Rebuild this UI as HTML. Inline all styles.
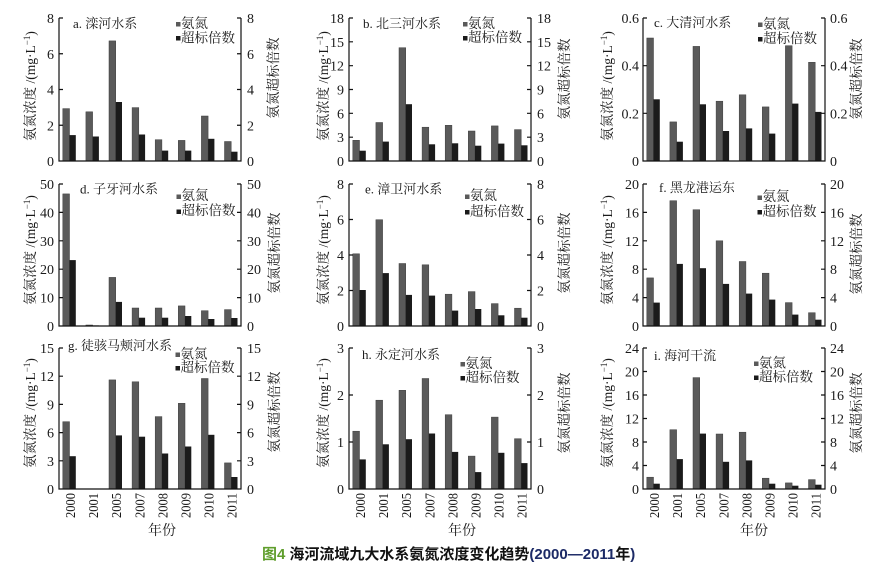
<!DOCTYPE html>
<html><head><meta charset="utf-8"><style>
html,body{margin:0;padding:0;background:#fff;}
svg{display:block;}
.s{font-family:"Liberation Serif","Noto Serif CJK SC",serif;fill:#1a1a1a;}
.t{font-size:14px;}
.ax{fill:none;stroke:#111;stroke-width:1.2;}
.g{fill:#5a5a5a;stroke:#3c3c3c;stroke-width:0.5;}
.k{fill:#1b1b1b;}
.ttl{font-size:13px;}
.lg{font-size:13.5px;}
.yl{font-size:13.5px;}
.yr{font-size:14px;}
</style></head><body>
<svg width="886" height="564" viewBox="0 0 886 564" xmlns="http://www.w3.org/2000/svg">
<rect width="886" height="564" fill="#fff"/>

<!-- Panel a -->
<g transform="translate(59,18)" class="s">
<rect class="g" x="3.8" y="90.6" width="6.7" height="52.4"/><rect class="k" x="10.5" y="117.1" width="6.3" height="25.9"/>
<rect class="g" x="26.9" y="93.8" width="6.7" height="49.2"/><rect class="k" x="33.6" y="118.5" width="6.3" height="24.5"/>
<rect class="g" x="50.0" y="22.9" width="6.7" height="120.1"/><rect class="k" x="56.7" y="84.0" width="6.3" height="59.0"/>
<rect class="g" x="73.1" y="89.6" width="6.7" height="53.4"/><rect class="k" x="79.8" y="116.5" width="6.3" height="26.5"/>
<rect class="g" x="96.2" y="121.7" width="6.7" height="21.3"/><rect class="k" x="102.9" y="132.6" width="6.3" height="10.4"/>
<rect class="g" x="119.3" y="122.4" width="6.7" height="20.6"/><rect class="k" x="126.0" y="132.6" width="6.3" height="10.4"/>
<rect class="g" x="142.4" y="98.0" width="6.7" height="45.0"/><rect class="k" x="149.1" y="120.8" width="6.3" height="22.2"/>
<rect class="g" x="165.5" y="123.5" width="6.7" height="19.5"/><rect class="k" x="172.2" y="133.7" width="6.3" height="9.3"/>
<path class="ax" d="M0,0V143H182V0M0,0h4M0,35.75h4M0,71.5h4M0,107.25h4M182,0h-4M182,35.75h-4M182,71.5h-4M182,107.25h-4"/>
<g class="t" text-anchor="end"><text x="-5" y="148">0</text><text x="-5" y="112.25">2</text><text x="-5" y="76.5">4</text><text x="-5" y="40.75">6</text><text x="-5" y="5">8</text></g>
<g class="t"><text x="188" y="148">0</text><text x="188" y="112.25">2</text><text x="188" y="76.5">4</text><text x="188" y="40.75">6</text><text x="188" y="5">8</text></g>
<text class="yl" text-anchor="middle" transform="translate(-24,68) rotate(-90)">氨氮浓度 /(mg·L<tspan font-size="9" dy="-5">−1</tspan><tspan dy="5">)</tspan></text>
<text class="yl" text-anchor="middle" transform="translate(219,60) rotate(-90)">氨氮超标倍数</text>
</g>

<!-- Panel b -->
<g transform="translate(349,18)" class="s">
<rect class="g" x="3.8" y="122.3" width="6.7" height="20.7"/><rect class="k" x="10.5" y="132.7" width="6.3" height="10.3"/>
<rect class="g" x="26.9" y="104.5" width="6.7" height="38.5"/><rect class="k" x="33.6" y="123.6" width="6.3" height="19.4"/>
<rect class="g" x="50.0" y="29.7" width="6.7" height="113.3"/><rect class="k" x="56.7" y="86.2" width="6.3" height="56.8"/>
<rect class="g" x="73.1" y="109.2" width="6.7" height="33.8"/><rect class="k" x="79.8" y="126.3" width="6.3" height="16.7"/>
<rect class="g" x="96.2" y="107.3" width="6.7" height="35.7"/><rect class="k" x="102.9" y="125.3" width="6.3" height="17.7"/>
<rect class="g" x="119.3" y="113.0" width="6.7" height="30.0"/><rect class="k" x="126.0" y="127.7" width="6.3" height="15.3"/>
<rect class="g" x="142.4" y="107.9" width="6.7" height="35.1"/><rect class="k" x="149.1" y="125.6" width="6.3" height="17.4"/>
<rect class="g" x="165.5" y="111.6" width="6.7" height="31.4"/><rect class="k" x="172.2" y="127.3" width="6.3" height="15.7"/>
<path class="ax" d="M0,0V143H182V0M0,0h4M0,23.8h4M0,47.7h4M0,71.5h4M0,95.3h4M0,119.2h4M182,0h-4M182,23.8h-4M182,47.7h-4M182,71.5h-4M182,95.3h-4M182,119.2h-4"/>
<g class="t" text-anchor="end"><text x="-5" y="148">0</text><text x="-5" y="124.2">3</text><text x="-5" y="100.3">6</text><text x="-5" y="76.5">9</text><text x="-5" y="52.7">12</text><text x="-5" y="28.8">15</text><text x="-5" y="5">18</text></g>
<g class="t"><text x="188" y="148">0</text><text x="188" y="124.2">3</text><text x="188" y="100.3">6</text><text x="188" y="76.5">9</text><text x="188" y="52.7">12</text><text x="188" y="28.8">15</text><text x="188" y="5">18</text></g>
<text class="yl" text-anchor="middle" transform="translate(-21,68) rotate(-90)">氨氮浓度 /(mg·L<tspan font-size="9" dy="-5">−1</tspan><tspan dy="5">)</tspan></text>
<text class="yl" text-anchor="middle" transform="translate(220,61) rotate(-90)">氨氮超标倍数</text>
</g>

<!-- Panel c -->
<g transform="translate(643,18)" class="s">
<rect class="g" x="3.8" y="20.0" width="6.7" height="123.0"/><rect class="k" x="10.5" y="81.3" width="6.3" height="61.7"/>
<rect class="g" x="26.9" y="103.9" width="6.7" height="39.1"/><rect class="k" x="33.6" y="123.7" width="6.3" height="19.3"/>
<rect class="g" x="50.0" y="28.4" width="6.7" height="114.6"/><rect class="k" x="56.7" y="86.3" width="6.3" height="56.7"/>
<rect class="g" x="73.1" y="83.2" width="6.7" height="59.8"/><rect class="k" x="79.8" y="113.0" width="6.3" height="30.0"/>
<rect class="g" x="96.2" y="76.8" width="6.7" height="66.2"/><rect class="k" x="102.9" y="110.4" width="6.3" height="32.6"/>
<rect class="g" x="119.3" y="88.9" width="6.7" height="54.1"/><rect class="k" x="126.0" y="115.6" width="6.3" height="27.4"/>
<rect class="g" x="142.4" y="27.7" width="6.7" height="115.3"/><rect class="k" x="149.1" y="85.6" width="6.3" height="57.4"/>
<rect class="g" x="165.5" y="44.3" width="6.7" height="98.7"/><rect class="k" x="172.2" y="93.9" width="6.3" height="49.1"/>
<path class="ax" d="M0,0V143H182V0M0,0h4M0,47.7h4M0,95.3h4M182,0h-4M182,47.7h-4M182,95.3h-4"/>
<g class="t" text-anchor="end"><text x="-4" y="148">0</text><text x="-4" y="100.3">0.2</text><text x="-4" y="52.7">0.4</text><text x="-4" y="5">0.6</text></g>
<g class="t"><text x="187" y="148">0</text><text x="187" y="100.3">0.2</text><text x="187" y="52.7">0.4</text><text x="187" y="5">0.6</text></g>
<text class="yl" text-anchor="middle" transform="translate(-31,68) rotate(-90)">氨氮浓度 /(mg·L<tspan font-size="9" dy="-5">−1</tspan><tspan dy="5">)</tspan></text>
<text class="yl" text-anchor="middle" transform="translate(218,61) rotate(-90)">氨氮超标倍数</text>
</g>

<!-- Panel d -->
<g transform="translate(59,184)" class="s">
<rect class="g" x="3.8" y="9.9" width="6.7" height="132.1"/><rect class="k" x="10.5" y="76.1" width="6.3" height="65.9"/>
<rect class="g" x="26.9" y="141.0" width="6.7" height="1.0"/><rect class="k" x="33.6" y="141.4" width="6.3" height="0.6"/>
<rect class="g" x="50.0" y="93.4" width="6.7" height="48.6"/><rect class="k" x="56.7" y="117.9" width="6.3" height="24.1"/>
<rect class="g" x="73.1" y="124.0" width="6.7" height="18.0"/><rect class="k" x="79.8" y="133.7" width="6.3" height="8.3"/>
<rect class="g" x="96.2" y="124.0" width="6.7" height="18.0"/><rect class="k" x="102.9" y="133.7" width="6.3" height="8.3"/>
<rect class="g" x="119.3" y="121.9" width="6.7" height="20.1"/><rect class="k" x="126.0" y="132.0" width="6.3" height="10.0"/>
<rect class="g" x="142.4" y="126.7" width="6.7" height="15.3"/><rect class="k" x="149.1" y="135.0" width="6.3" height="7.0"/>
<rect class="g" x="165.5" y="125.6" width="6.7" height="16.4"/><rect class="k" x="172.2" y="134.0" width="6.3" height="8.0"/>
<path class="ax" d="M0,0V142H182V0M0,0h4M0,28.4h4M0,56.8h4M0,85.2h4M0,113.6h4M182,0h-4M182,28.4h-4M182,56.8h-4M182,85.2h-4M182,113.6h-4"/>
<g class="t" text-anchor="end"><text x="-5" y="147">0</text><text x="-5" y="118.6">10</text><text x="-5" y="90.2">20</text><text x="-5" y="61.8">30</text><text x="-5" y="33.4">40</text><text x="-5" y="5">50</text></g>
<g class="t"><text x="188" y="147">0</text><text x="188" y="118.6">10</text><text x="188" y="90.2">20</text><text x="188" y="61.8">30</text><text x="188" y="33.4">40</text><text x="188" y="5">50</text></g>
<text class="yl" text-anchor="middle" transform="translate(-24,66) rotate(-90)">氨氮浓度 /(mg·L<tspan font-size="9" dy="-5">−1</tspan><tspan dy="5">)</tspan></text>
<text class="yl" text-anchor="middle" transform="translate(220,69) rotate(-90)">氨氮超标倍数</text>
</g>

<!-- Panel e -->
<g transform="translate(349,184)" class="s">
<rect class="g" x="3.8" y="69.8" width="6.7" height="72.2"/><rect class="k" x="10.5" y="106.0" width="6.3" height="36.0"/>
<rect class="g" x="26.9" y="35.7" width="6.7" height="106.3"/><rect class="k" x="33.6" y="89.1" width="6.3" height="52.9"/>
<rect class="g" x="50.0" y="79.5" width="6.7" height="62.5"/><rect class="k" x="56.7" y="110.9" width="6.3" height="31.1"/>
<rect class="g" x="73.1" y="80.8" width="6.7" height="61.2"/><rect class="k" x="79.8" y="111.6" width="6.3" height="30.4"/>
<rect class="g" x="96.2" y="110.2" width="6.7" height="31.8"/><rect class="k" x="102.9" y="126.6" width="6.3" height="15.4"/>
<rect class="g" x="119.3" y="107.6" width="6.7" height="34.4"/><rect class="k" x="126.0" y="125.0" width="6.3" height="17.0"/>
<rect class="g" x="142.4" y="119.6" width="6.7" height="22.4"/><rect class="k" x="149.1" y="131.3" width="6.3" height="10.7"/>
<rect class="g" x="165.5" y="124.2" width="6.7" height="17.8"/><rect class="k" x="172.2" y="133.7" width="6.3" height="8.3"/>
<path class="ax" d="M0,0V142H182V0M0,0h4M0,35.5h4M0,71h4M0,106.5h4M182,0h-4M182,35.5h-4M182,71h-4M182,106.5h-4"/>
<g class="t" text-anchor="end"><text x="-5" y="147">0</text><text x="-5" y="111.5">2</text><text x="-5" y="76">4</text><text x="-5" y="40.5">6</text><text x="-5" y="5">8</text></g>
<g class="t"><text x="188" y="147">0</text><text x="188" y="111.5">2</text><text x="188" y="76">4</text><text x="188" y="40.5">6</text><text x="188" y="5">8</text></g>
<text class="yl" text-anchor="middle" transform="translate(-21,66) rotate(-90)">氨氮浓度 /(mg·L<tspan font-size="9" dy="-5">−1</tspan><tspan dy="5">)</tspan></text>
<text class="yl" text-anchor="middle" transform="translate(220,69) rotate(-90)">氨氮超标倍数</text>
</g>

<!-- Panel f -->
<g transform="translate(643,184)" class="s">
<rect class="g" x="3.8" y="93.9" width="6.7" height="48.1"/><rect class="k" x="10.5" y="118.6" width="6.3" height="23.4"/>
<rect class="g" x="26.9" y="16.7" width="6.7" height="125.3"/><rect class="k" x="33.6" y="79.9" width="6.3" height="62.1"/>
<rect class="g" x="50.0" y="25.7" width="6.7" height="116.3"/><rect class="k" x="56.7" y="84.2" width="6.3" height="57.8"/>
<rect class="g" x="73.1" y="56.8" width="6.7" height="85.2"/><rect class="k" x="79.8" y="99.9" width="6.3" height="42.1"/>
<rect class="g" x="96.2" y="77.5" width="6.7" height="64.5"/><rect class="k" x="102.9" y="109.6" width="6.3" height="32.4"/>
<rect class="g" x="119.3" y="89.2" width="6.7" height="52.8"/><rect class="k" x="126.0" y="115.6" width="6.3" height="26.4"/>
<rect class="g" x="142.4" y="118.6" width="6.7" height="23.4"/><rect class="k" x="149.1" y="130.6" width="6.3" height="11.4"/>
<rect class="g" x="165.5" y="128.7" width="6.7" height="13.3"/><rect class="k" x="172.2" y="135.7" width="6.3" height="6.3"/>
<path class="ax" d="M0,0V142H182V0M0,0h4M0,28.4h4M0,56.8h4M0,85.2h4M0,113.6h4M182,0h-4M182,28.4h-4M182,56.8h-4M182,85.2h-4M182,113.6h-4"/>
<g class="t" text-anchor="end"><text x="-4" y="147">0</text><text x="-4" y="118.6">4</text><text x="-4" y="90.2">8</text><text x="-4" y="61.8">12</text><text x="-4" y="33.4">16</text><text x="-4" y="5">20</text></g>
<g class="t"><text x="187" y="147">0</text><text x="187" y="118.6">4</text><text x="187" y="90.2">8</text><text x="187" y="61.8">12</text><text x="187" y="33.4">16</text><text x="187" y="5">20</text></g>
<text class="yl" text-anchor="middle" transform="translate(-31,66) rotate(-90)">氨氮浓度 /(mg·L<tspan font-size="9" dy="-5">−1</tspan><tspan dy="5">)</tspan></text>
<text class="yl" text-anchor="middle" transform="translate(218,70) rotate(-90)">氨氮超标倍数</text>
</g>

<!-- Panel g -->
<g transform="translate(59,348)" class="s">
<rect class="g" x="3.8" y="73.7" width="6.7" height="67.3"/><rect class="k" x="10.5" y="108.2" width="6.3" height="32.8"/>
<rect class="g" x="50.0" y="31.9" width="6.7" height="109.1"/><rect class="k" x="56.7" y="87.4" width="6.3" height="53.6"/>
<rect class="g" x="73.1" y="33.8" width="6.7" height="107.2"/><rect class="k" x="79.8" y="88.7" width="6.3" height="52.3"/>
<rect class="g" x="96.2" y="68.6" width="6.7" height="72.4"/><rect class="k" x="102.9" y="105.5" width="6.3" height="35.5"/>
<rect class="g" x="119.3" y="55.3" width="6.7" height="85.7"/><rect class="k" x="126.0" y="98.5" width="6.3" height="42.5"/>
<rect class="g" x="142.4" y="30.5" width="6.7" height="110.5"/><rect class="k" x="149.1" y="86.8" width="6.3" height="54.2"/>
<rect class="g" x="165.5" y="114.9" width="6.7" height="26.1"/><rect class="k" x="172.2" y="129.0" width="6.3" height="12.0"/>
<path class="ax" d="M0,0V141H182V0M0,0h4M0,28.2h4M0,56.4h4M0,84.6h4M0,112.8h4M182,0h-4M182,28.2h-4M182,56.4h-4M182,84.6h-4M182,112.8h-4"/>
<g class="t" text-anchor="end"><text x="-5" y="146">0</text><text x="-5" y="117.8">3</text><text x="-5" y="89.6">6</text><text x="-5" y="61.4">9</text><text x="-5" y="33.2">12</text><text x="-5" y="5">15</text></g>
<g class="t"><text x="188" y="146">0</text><text x="188" y="117.8">3</text><text x="188" y="89.6">6</text><text x="188" y="61.4">9</text><text x="188" y="33.2">12</text><text x="188" y="5">15</text></g>
<text class="yl" text-anchor="middle" transform="translate(-24,65) rotate(-90)">氨氮浓度 /(mg·L<tspan font-size="9" dy="-5">−1</tspan><tspan dy="5">)</tspan></text>
<text class="yl" text-anchor="middle" transform="translate(220,64) rotate(-90)">氨氮超标倍数</text>
<g class="yr" text-anchor="end">
<text transform="translate(16,145) rotate(-90)" textLength="25" lengthAdjust="spacingAndGlyphs">2000</text>
<text transform="translate(39.1,145) rotate(-90)" textLength="25" lengthAdjust="spacingAndGlyphs">2001</text>
<text transform="translate(62.2,145) rotate(-90)" textLength="25" lengthAdjust="spacingAndGlyphs">2005</text>
<text transform="translate(85.3,145) rotate(-90)" textLength="25" lengthAdjust="spacingAndGlyphs">2007</text>
<text transform="translate(108.4,145) rotate(-90)" textLength="25" lengthAdjust="spacingAndGlyphs">2008</text>
<text transform="translate(131.5,145) rotate(-90)" textLength="25" lengthAdjust="spacingAndGlyphs">2009</text>
<text transform="translate(154.6,145) rotate(-90)" textLength="25" lengthAdjust="spacingAndGlyphs">2010</text>
<text transform="translate(177.7,145) rotate(-90)" textLength="25" lengthAdjust="spacingAndGlyphs">2011</text>
</g>
</g>

<!-- Panel h -->
<g transform="translate(349,348)" class="s">
<rect class="g" x="3.8" y="83.2" width="6.7" height="57.8"/><rect class="k" x="10.5" y="111.4" width="6.3" height="29.6"/>
<rect class="g" x="26.9" y="52.2" width="6.7" height="88.8"/><rect class="k" x="33.6" y="96.3" width="6.3" height="44.7"/>
<rect class="g" x="50.0" y="42.3" width="6.7" height="98.7"/><rect class="k" x="56.7" y="91.2" width="6.3" height="49.8"/>
<rect class="g" x="73.1" y="30.5" width="6.7" height="110.5"/><rect class="k" x="79.8" y="85.5" width="6.3" height="55.5"/>
<rect class="g" x="96.2" y="66.7" width="6.7" height="74.3"/><rect class="k" x="102.9" y="103.9" width="6.3" height="37.1"/>
<rect class="g" x="119.3" y="108.1" width="6.7" height="32.9"/><rect class="k" x="126.0" y="124.1" width="6.3" height="16.9"/>
<rect class="g" x="142.4" y="69.1" width="6.7" height="71.9"/><rect class="k" x="149.1" y="104.8" width="6.3" height="36.2"/>
<rect class="g" x="165.5" y="90.7" width="6.7" height="50.3"/><rect class="k" x="172.2" y="115.1" width="6.3" height="25.9"/>
<path class="ax" d="M0,0V141H182V0M0,0h4M0,47h4M0,94h4M182,0h-4M182,47h-4M182,94h-4"/>
<g class="t" text-anchor="end"><text x="-5" y="146">0</text><text x="-5" y="99">1</text><text x="-5" y="52">2</text><text x="-5" y="5">3</text></g>
<g class="t"><text x="188" y="146">0</text><text x="188" y="99">1</text><text x="188" y="52">2</text><text x="188" y="5">3</text></g>
<text class="yl" text-anchor="middle" transform="translate(-21,65) rotate(-90)">氨氮浓度 /(mg·L<tspan font-size="9" dy="-5">−1</tspan><tspan dy="5">)</tspan></text>
<text class="yl" text-anchor="middle" transform="translate(220,65) rotate(-90)">氨氮超标倍数</text>
<g class="yr" text-anchor="end">
<text transform="translate(16,145) rotate(-90)" textLength="25" lengthAdjust="spacingAndGlyphs">2000</text>
<text transform="translate(39.1,145) rotate(-90)" textLength="25" lengthAdjust="spacingAndGlyphs">2001</text>
<text transform="translate(62.2,145) rotate(-90)" textLength="25" lengthAdjust="spacingAndGlyphs">2005</text>
<text transform="translate(85.3,145) rotate(-90)" textLength="25" lengthAdjust="spacingAndGlyphs">2007</text>
<text transform="translate(108.4,145) rotate(-90)" textLength="25" lengthAdjust="spacingAndGlyphs">2008</text>
<text transform="translate(131.5,145) rotate(-90)" textLength="25" lengthAdjust="spacingAndGlyphs">2009</text>
<text transform="translate(154.6,145) rotate(-90)" textLength="25" lengthAdjust="spacingAndGlyphs">2010</text>
<text transform="translate(177.7,145) rotate(-90)" textLength="25" lengthAdjust="spacingAndGlyphs">2011</text>
</g>
</g>

<!-- Panel i -->
<g transform="translate(643,348)" class="s">
<rect class="g" x="3.8" y="129.2" width="6.7" height="11.8"/><rect class="k" x="10.5" y="135.7" width="6.3" height="5.3"/>
<rect class="g" x="26.9" y="81.7" width="6.7" height="59.3"/><rect class="k" x="33.6" y="111.1" width="6.3" height="29.9"/>
<rect class="g" x="50.0" y="29.6" width="6.7" height="111.4"/><rect class="k" x="56.7" y="85.6" width="6.3" height="55.4"/>
<rect class="g" x="73.1" y="86.0" width="6.7" height="55.0"/><rect class="k" x="79.8" y="113.8" width="6.3" height="27.2"/>
<rect class="g" x="96.2" y="84.2" width="6.7" height="56.8"/><rect class="k" x="102.9" y="112.4" width="6.3" height="28.6"/>
<rect class="g" x="119.3" y="130.2" width="6.7" height="10.8"/><rect class="k" x="126.0" y="135.7" width="6.3" height="5.3"/>
<rect class="g" x="142.4" y="134.9" width="6.7" height="6.1"/><rect class="k" x="149.1" y="137.7" width="6.3" height="3.3"/>
<rect class="g" x="165.5" y="131.6" width="6.7" height="9.4"/><rect class="k" x="172.2" y="136.7" width="6.3" height="4.3"/>
<path class="ax" d="M0,0V141H182V0M0,0h4M0,23.5h4M0,47h4M0,70.5h4M0,94h4M0,117.5h4M182,0h-4M182,23.5h-4M182,47h-4M182,70.5h-4M182,94h-4M182,117.5h-4"/>
<g class="t" text-anchor="end"><text x="-4" y="146">0</text><text x="-4" y="122.5">4</text><text x="-4" y="99">8</text><text x="-4" y="75.5">12</text><text x="-4" y="52">16</text><text x="-4" y="28.5">20</text><text x="-4" y="5">24</text></g>
<g class="t"><text x="187" y="146">0</text><text x="187" y="122.5">4</text><text x="187" y="99">8</text><text x="187" y="75.5">12</text><text x="187" y="52">16</text><text x="187" y="28.5">20</text><text x="187" y="5">24</text></g>
<text class="yl" text-anchor="middle" transform="translate(-31,65) rotate(-90)">氨氮浓度 /(mg·L<tspan font-size="9" dy="-5">−1</tspan><tspan dy="5">)</tspan></text>
<text class="yl" text-anchor="middle" transform="translate(218,65) rotate(-90)">氨氮超标倍数</text>
<g class="yr" text-anchor="end">
<text transform="translate(16,145) rotate(-90)" textLength="25" lengthAdjust="spacingAndGlyphs">2000</text>
<text transform="translate(39.1,145) rotate(-90)" textLength="25" lengthAdjust="spacingAndGlyphs">2001</text>
<text transform="translate(62.2,145) rotate(-90)" textLength="25" lengthAdjust="spacingAndGlyphs">2005</text>
<text transform="translate(85.3,145) rotate(-90)" textLength="25" lengthAdjust="spacingAndGlyphs">2007</text>
<text transform="translate(108.4,145) rotate(-90)" textLength="25" lengthAdjust="spacingAndGlyphs">2008</text>
<text transform="translate(131.5,145) rotate(-90)" textLength="25" lengthAdjust="spacingAndGlyphs">2009</text>
<text transform="translate(154.6,145) rotate(-90)" textLength="25" lengthAdjust="spacingAndGlyphs">2010</text>
<text transform="translate(177.7,145) rotate(-90)" textLength="25" lengthAdjust="spacingAndGlyphs">2011</text>
</g>
</g>

<!-- Titles -->
<g class="s ttl">
<text x="73" y="28">a. 滦河水系</text>
<text x="363" y="28">b. 北三河水系</text>
<text x="654" y="27">c. 大清河水系</text>
<text x="80" y="193.5">d. 子牙河水系</text>
<text x="365" y="193.5">e. 漳卫河水系</text>
<text x="659" y="192">f. 黑龙港运东</text>
<text x="68" y="350">g. 徒骇马颊河水系</text>
<text x="362" y="359">h. 永定河水系</text>
<text x="654" y="360">i. 海河干流</text>
</g>

<!-- Legends -->
<g class="s lg">
<rect x="176" y="22" width="4.5" height="4.5" fill="#5a5a5a"/><text x="181" y="28">氨氮</text>
<rect x="176" y="36" width="4.5" height="4.5" fill="#1b1b1b"/><text x="181" y="42.5">超标倍数</text>
<rect x="463" y="22" width="4.5" height="4.5" fill="#5a5a5a"/><text x="468" y="28">氨氮</text>
<rect x="463" y="36" width="4.5" height="4.5" fill="#1b1b1b"/><text x="468" y="42">超标倍数</text>
<rect x="758" y="22.5" width="4.5" height="4.5" fill="#5a5a5a"/><text x="763" y="28.5">氨氮</text>
<rect x="758" y="37" width="4.5" height="4.5" fill="#1b1b1b"/><text x="763" y="43">超标倍数</text>
<rect x="176.5" y="194.5" width="4.5" height="4.5" fill="#5a5a5a"/><text x="181.5" y="200">氨氮</text>
<rect x="176.5" y="209.5" width="4.5" height="4.5" fill="#1b1b1b"/><text x="181.5" y="215">超标倍数</text>
<rect x="465" y="194.5" width="4.5" height="4.5" fill="#5a5a5a"/><text x="470" y="200">氨氮</text>
<rect x="465" y="210" width="4.5" height="4.5" fill="#1b1b1b"/><text x="470" y="216">超标倍数</text>
<rect x="757.5" y="195.5" width="4.5" height="4.5" fill="#5a5a5a"/><text x="762.5" y="201">氨氮</text>
<rect x="757.5" y="210" width="4.5" height="4.5" fill="#1b1b1b"/><text x="762.5" y="216">超标倍数</text>
<rect x="175.5" y="352.5" width="4.5" height="4.5" fill="#5a5a5a"/><text x="180.5" y="358.5">氨氮</text>
<rect x="175.5" y="366" width="4.5" height="4.5" fill="#1b1b1b"/><text x="180.5" y="372">超标倍数</text>
<rect x="460.5" y="362" width="4.5" height="4.5" fill="#5a5a5a"/><text x="465.5" y="368">氨氮</text>
<rect x="460.5" y="376" width="4.5" height="4.5" fill="#1b1b1b"/><text x="465.5" y="382">超标倍数</text>
<rect x="754" y="361.5" width="4.5" height="4.5" fill="#5a5a5a"/><text x="759" y="367.5">氨氮</text>
<rect x="754" y="375.5" width="4.5" height="4.5" fill="#1b1b1b"/><text x="759" y="381.5">超标倍数</text>
</g>

<!-- x-axis titles -->
<g class="s" font-size="14" text-anchor="middle">
<text x="162" y="535">年份</text>
<text x="462" y="535">年份</text>
<text x="754" y="535">年份</text>
</g>

<!-- Caption -->
<text x="262" y="559" font-size="15" font-weight="bold" font-family="'Liberation Sans','Noto Sans CJK SC',sans-serif"><tspan fill="#5f9e2c">图4</tspan><tspan fill="#111" dx="4">海河流域九大水系氨氮浓度变化趋势</tspan><tspan fill="#1c2a66">(2000—2011</tspan><tspan fill="#111">年</tspan><tspan fill="#1c2a66">)</tspan></text>
</svg>
</body></html>
